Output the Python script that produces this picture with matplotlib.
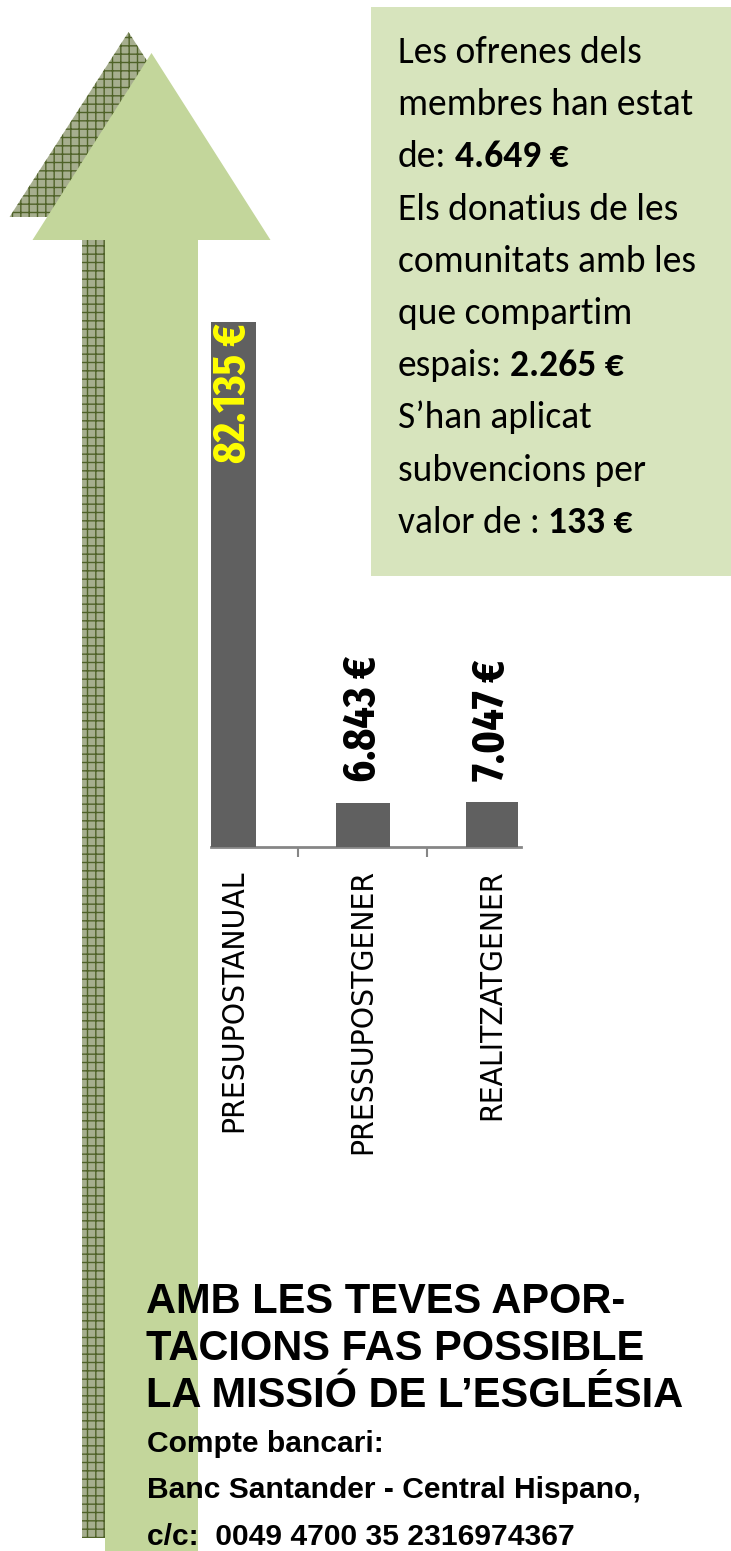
import os
import matplotlib
matplotlib.use('Agg')
import matplotlib.pyplot as plt
from matplotlib import font_manager
from matplotlib.patches import Polygon, Rectangle

# chart data
categories = ['PRESUPOSTANUAL', 'PRESSUPOSTGENER', 'REALITZATGENER']
values = [82135, 6843, 7047]
value_labels = ['82.135 €', '6.843 €', '7.047 €']

# side box text: (regular part, bold part)
box_lines = [
    ('Les ofrenes dels', ''),
    ('membres han estat', ''),
    ('de:', '4.649 €'),
    ('Els donatius de les', ''),
    ('comunitats amb les', ''),
    ('que compartim', ''),
    ('espais:', '2.265 €'),
    ('S’han aplicat', ''),
    ('subvencions per', ''),
    ('valor de :', '133 €'),
]

heading = ['AMB LES TEVES APOR-', 'TACIONS FAS POSSIBLE', 'LA MISSIÓ DE L’ESGLÉSIA']
account = ['Compte bancari:', 'Banc Santander - Central Hispano,', 'c/c:  0049 4700 35 2316974367']

names = {f.name for f in font_manager.fontManager.ttflist}


def pick(*cands):
    for c in cands:
        if c in names:
            return c
    return 'DejaVu Sans'


def weight_num(w):
    if isinstance(w, (int, float)):
        return int(w)
    return font_manager.weight_dict.get(w, 400)


def find_narrow(prefs, bold):
    # look for a condensed / narrow face among installed fonts
    pool = []
    for f in font_manager.fontManager.ttflist:
        if f.style != 'normal':
            continue
        w = weight_num(f.weight)
        if bold and w < 600:
            continue
        if not bold and not (300 <= w <= 500):
            continue
        key = (f.name + ' ' + str(f.stretch) + ' ' + os.path.basename(f.fname)).lower()
        key = key.replace('-', '').replace(' ', '')
        for rank, p in enumerate(prefs):
            if p in key:
                pool.append((rank, abs(w - (700 if bold else 400)), f.fname))
                break
    if pool:
        return font_manager.FontProperties(fname=min(pool)[2])
    return font_manager.FontProperties(family='DejaVu Sans', weight='bold' if bold else 'normal')


val_font = find_narrow(['extracondensed', 'narrow', 'condensed'], True)
cat_font = find_narrow(['condensed', 'narrow', 'extracondensed'], False)
calibri = pick('Carlito', 'Lato', 'Open Sans')
arial = pick('Liberation Sans', 'Arimo', 'DejaVu Sans')

W, H = 731, 1551
plt.rcParams['hatch.linewidth'] = 1.0

fig = plt.figure(figsize=(W / 100, H / 100), dpi=100)
fig.patch.set_facecolor('white')

# background layer in pixel units (y down)
bg = fig.add_axes([0, 0, 1, 1])
bg.set_xlim(0, W)
bg.set_ylim(H, 0)
bg.axis('off')


def arrow_shape(cx, tip, base, head_half, shaft_half, bottom):
    return [(cx, tip), (cx + head_half, base), (cx + shaft_half, base),
            (cx + shaft_half, bottom), (cx - shaft_half, bottom),
            (cx - shaft_half, base), (cx - head_half, base)]


# shadow arrow with grid pattern
shadow = Polygon(arrow_shape(128.5, 32, 217, 119, 46.5, 1538), closed=True,
                 facecolor='#a6ae8e', edgecolor='#4f6228', hatch='++', lw=0, zorder=1)
bg.add_patch(shadow)
# main arrow
main = Polygon(arrow_shape(151.5, 53, 240, 119, 46.5, 1570), closed=True,
               facecolor='#c3d69b', edgecolor='none', zorder=2)
bg.add_patch(main)

# info box
bg.add_patch(Rectangle((371, 7), 360, 569, facecolor='#d7e4bd', edgecolor='none', zorder=3))

box_size = 27
reg_texts = []
for i, (reg, bold) in enumerate(box_lines):
    y = 63 + i * 52.2
    t = bg.text(398, y, reg, fontsize=box_size, family=calibri, va='baseline',
                ha='left', color='black', zorder=4)
    reg_texts.append((t, bold, y))

renderer = fig.canvas.get_renderer()
space = box_size * 100 / 72 * 0.22
for t, bold, y in reg_texts:
    if bold:
        ext = t.get_window_extent(renderer)
        bg.text(ext.x1 + space, y, bold, fontsize=box_size, family=calibri,
                fontweight='bold', va='baseline', ha='left', zorder=4)

# heading and bank account
for i, line in enumerate(heading):
    bg.text(146, 1313 + i * 47, line, fontsize=30, family=arial, fontweight='bold',
            va='baseline', ha='left', zorder=5)
for i, line in enumerate(account):
    bg.text(147, 1452 + i * 46.5, line, fontsize=21.6, family=arial, fontweight='bold',
            va='baseline', ha='left', zorder=5)

# bar chart
ax = fig.add_axes([211 / W, (H - 847) / H, (521 - 211) / W, (847 - 300) / H])
ax.set_facecolor('none')
x = range(len(categories))
widths = [0.35, 0.42, 0.40]
ax.bar(x, values, width=widths, color='#606060', zorder=3)
ax.set_xlim(-0.174, 2.224)
ax.set_ylim(0, values[0] * 547 / 525)

for s in ['top', 'right', 'left']:
    ax.spines[s].set_visible(False)
ax.spines['bottom'].set_color('#868686')
ax.spines['bottom'].set_linewidth(2)
ax.set_yticks([])

ax.set_xticks(list(x))
cat_labels = ax.set_xticklabels(categories, rotation=90, fontproperties=cat_font, color='black')
ax.tick_params(axis='x', which='major', length=0, pad=16)
ax.set_xticks([0.5, 1.5], minor=True)
ax.tick_params(axis='x', which='minor', length=7.5, width=1.5, color='#868686', direction='out')

val_texts = [ax.annotate(value_labels[0], (0, values[0]), xytext=(0, -1),
                         textcoords='offset points', rotation=90, ha='center', va='top',
                         fontproperties=val_font, color='#ffff00', zorder=4)]
for i in range(1, len(values)):
    val_texts.append(ax.annotate(value_labels[i], (i, values[i]), xytext=(0, 15),
                                 textcoords='offset points', rotation=90, ha='center',
                                 va='bottom', fontproperties=val_font, color='black', zorder=4))


def fit_size(texts, target_px):
    # scale a group of texts so the first one spans target_px
    texts[0].set_fontsize(20)
    ext = texts[0].get_window_extent(renderer)
    size = 20 * target_px / max(ext.width, ext.height)
    for t in texts:
        t.set_fontsize(size)


fit_size(list(cat_labels), 262)
fit_size(val_texts, 140)

fig.savefig('out.png', dpi=100)
